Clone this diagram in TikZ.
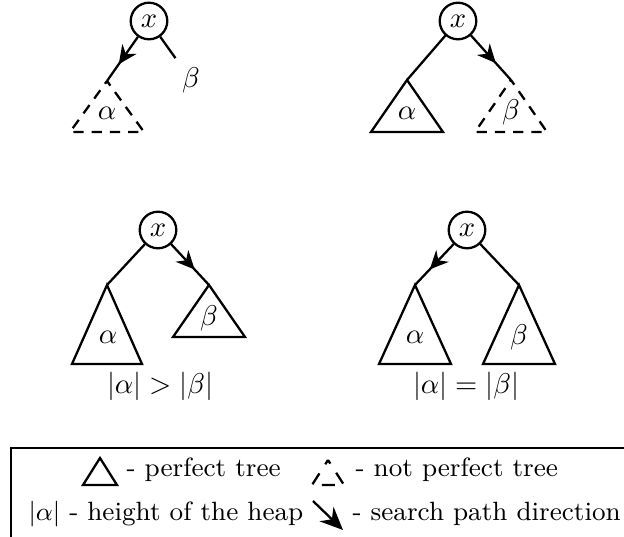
\documentclass[tikz,border=0pt]{standalone}
\usetikzlibrary{arrows.meta,decorations.markings}
\tikzset{
  key/.style={draw, circle, thick, minimum size=12.8pt, inner sep=0pt},
  perfect/.style={draw, thick},
  notperfect/.style={draw, thick, dash pattern=on 3.6pt off 2.8pt, dash phase=1.6pt},
  search/.style={thick, postaction={decorate},
    decoration={markings, mark=at position 0.62 with {\arrow{Stealth[length=6.5pt,width=6pt]}}}},
  legend/.style={anchor=base west, inner sep=0pt, font=\fontsize{9.25}{11}\selectfont},
}
\begin{document}
\begin{tikzpicture}[x=0.35pt,y=-0.35pt]
\useasboundingbox (0,0) rectangle (624,537);

% top left: path goes into alpha
\node[key] (xa) at (149,21) {$x$};
\coordinate (aa) at (107,81);
\node[inner sep=3pt] (ba) at (191,80) {$\beta$};
\draw[search] (xa) -- (aa);
\draw[thick] (xa) -- (ba);
\draw[notperfect] (aa) -- ++(37,51) -- ++(-74,0) -- cycle;
\node (la) at (107,113) {$\alpha$};

% top right: path goes into beta
\node[key] (xb) at (458,21) {$x$};
\coordinate (ab) at (407,80);
\coordinate (bb) at (511,80);
\draw[thick] (xb) -- (ab);
\draw[search] (xb) -- (bb);
\draw[perfect] (ab) -- ++(36,52) -- ++(-72,0) -- cycle;
\draw[notperfect] (bb) -- ++(36,52) -- ++(-72,0) -- cycle;
\node (lab) at (407,113) {$\alpha$};
\node (lbb) at (511,112) {$\beta$};

% bottom left
\node[key] (xc) at (158,230) {$x$};
\coordinate (ac) at (107,285);
\coordinate (bc) at (209,285);
\draw[thick] (xc) -- (ac);
\draw[search] (xc) -- (bc);
\draw[perfect] (ac) -- ++(35,79) -- ++(-70,0) -- cycle;
\draw[perfect] (bc) -- ++(36,52) -- ++(-72,0) -- cycle;
\node (lac) at (108,337) {$\alpha$};
\node (lbc) at (209,318) {$\beta$};
\node (cmpc) at (160,386) {$|\alpha| > |\beta|$};

% bottom right
\node[key] (xd) at (467,230) {$x$};
\coordinate (ad) at (415,285);
\coordinate (bd) at (519,285);
\draw[search] (xd) -- (ad);
\draw[thick] (xd) -- (bd);
\draw[perfect] (ad) -- ++(36,79) -- ++(-72,0) -- cycle;
\draw[perfect] (bd) -- ++(36,79) -- ++(-72,0) -- cycle;
\node (lad) at (415,337) {$\alpha$};
\node (lbd) at (519,337) {$\beta$};
\node (cmpd) at (466,386) {$|\alpha| = |\beta|$};

% legend
\coordinate (boxnw) at (11,448);
\draw[thick] (650,448) -- (boxnw) -- (11,560);
\coordinate (ip) at (100,458);
\draw[perfect] (ip) -- ++(17,27) -- ++(-34,0) -- cycle;
\node[legend] (tp) at (126,477) {- perfect tree};
\coordinate (inp) at (328,460);
\draw[thick, dash pattern=on 4.5pt off 3.8pt, dash phase=3pt] (inp) -- ++(16,25) -- ++(-32,0) -- cycle;
\node[legend] (tnp) at (355,477) {- not perfect tree};
\node[legend] (th) at (28,520) {$|\alpha|$ - height of the heap};
\coordinate (is) at (313,501);
\coordinate (ie) at (343,530);
\draw[thick, -{Stealth[length=8pt,width=7pt]}] (is) -- (ie);
\node[legend] (ts) at (352,520) {- search path direction};
\end{tikzpicture}
\end{document}
